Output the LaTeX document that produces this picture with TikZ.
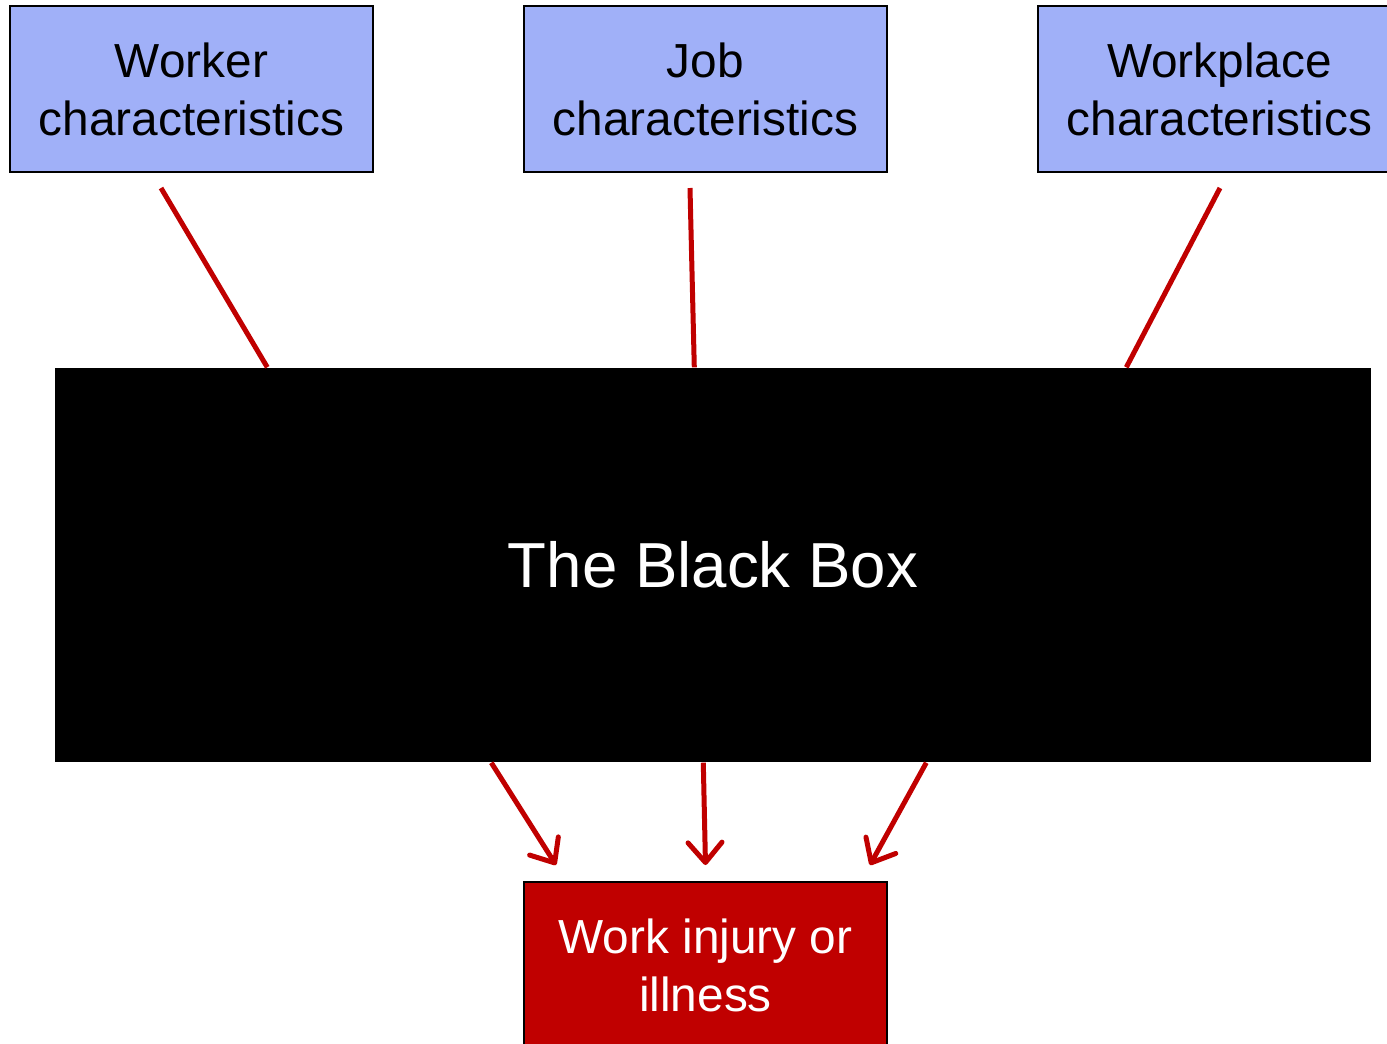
\documentclass[tikz,border=0pt]{standalone}
\usepackage{fontspec}
\setmainfont{Liberation Sans}
\usetikzlibrary{arrows.meta, positioning}
\definecolor{boxblue}{RGB}{160,176,248}
\definecolor{boxred}{RGB}{192,0,0}

\begin{document}
\begin{tikzpicture}
\tikzset{
  factor/.style={draw=black, line width=0.02cm, fill=boxblue, minimum width=3.63cm, minimum height=1.66cm, inner sep=0pt, align=center, font=\fontsize{13.6}{16.5}\selectfont},
  outcome/.style={factor, fill=boxred, text=white},
  link/.style={draw=boxred, line width=0.05cm},
  linkarrow/.style={link, -{Straight Barb[round, length=0.2cm, width=0.34cm]}}
}
\useasboundingbox (0,0) rectangle (13.87,-10.44);

\node[factor] (worker) at (1.915,-0.89) {Worker\\characteristics};
\node[factor] (job) at (7.055,-0.89) {Job\\characteristics};
\node[factor] (place) at (12.195,-0.89) {Workplace\\characteristics};

\node[fill=black, text=white, minimum width=13.16cm, minimum height=3.94cm, inner sep=0pt, font=\fontsize{18.1}{22}\selectfont] (bb) at (7.13,-5.65) {The Black Box};

\node[outcome] (ill) at (7.055,-9.65) {Work injury or\\illness};

\draw[link] ([xshift=-0.305cm, yshift=-0.15cm]worker.south) -- ([xshift=2.13cm]bb.north west);
\draw[link] ([xshift=-0.155cm, yshift=-0.15cm]job.south) -- ([xshift=6.40cm]bb.north west);
\draw[link] ([xshift=0.005cm, yshift=-0.15cm]place.south) -- ([xshift=10.72cm]bb.north west);

\draw[linkarrow] ([xshift=4.37cm]bb.south west) -- ([xshift=-1.495cm, yshift=0.16cm]ill.north);
\draw[linkarrow] ([xshift=6.49cm]bb.south west) -- ([yshift=0.16cm]ill.north);
\draw[linkarrow] ([xshift=8.72cm]bb.south west) -- ([xshift=1.645cm, yshift=0.16cm]ill.north);
\end{tikzpicture}
\end{document}
